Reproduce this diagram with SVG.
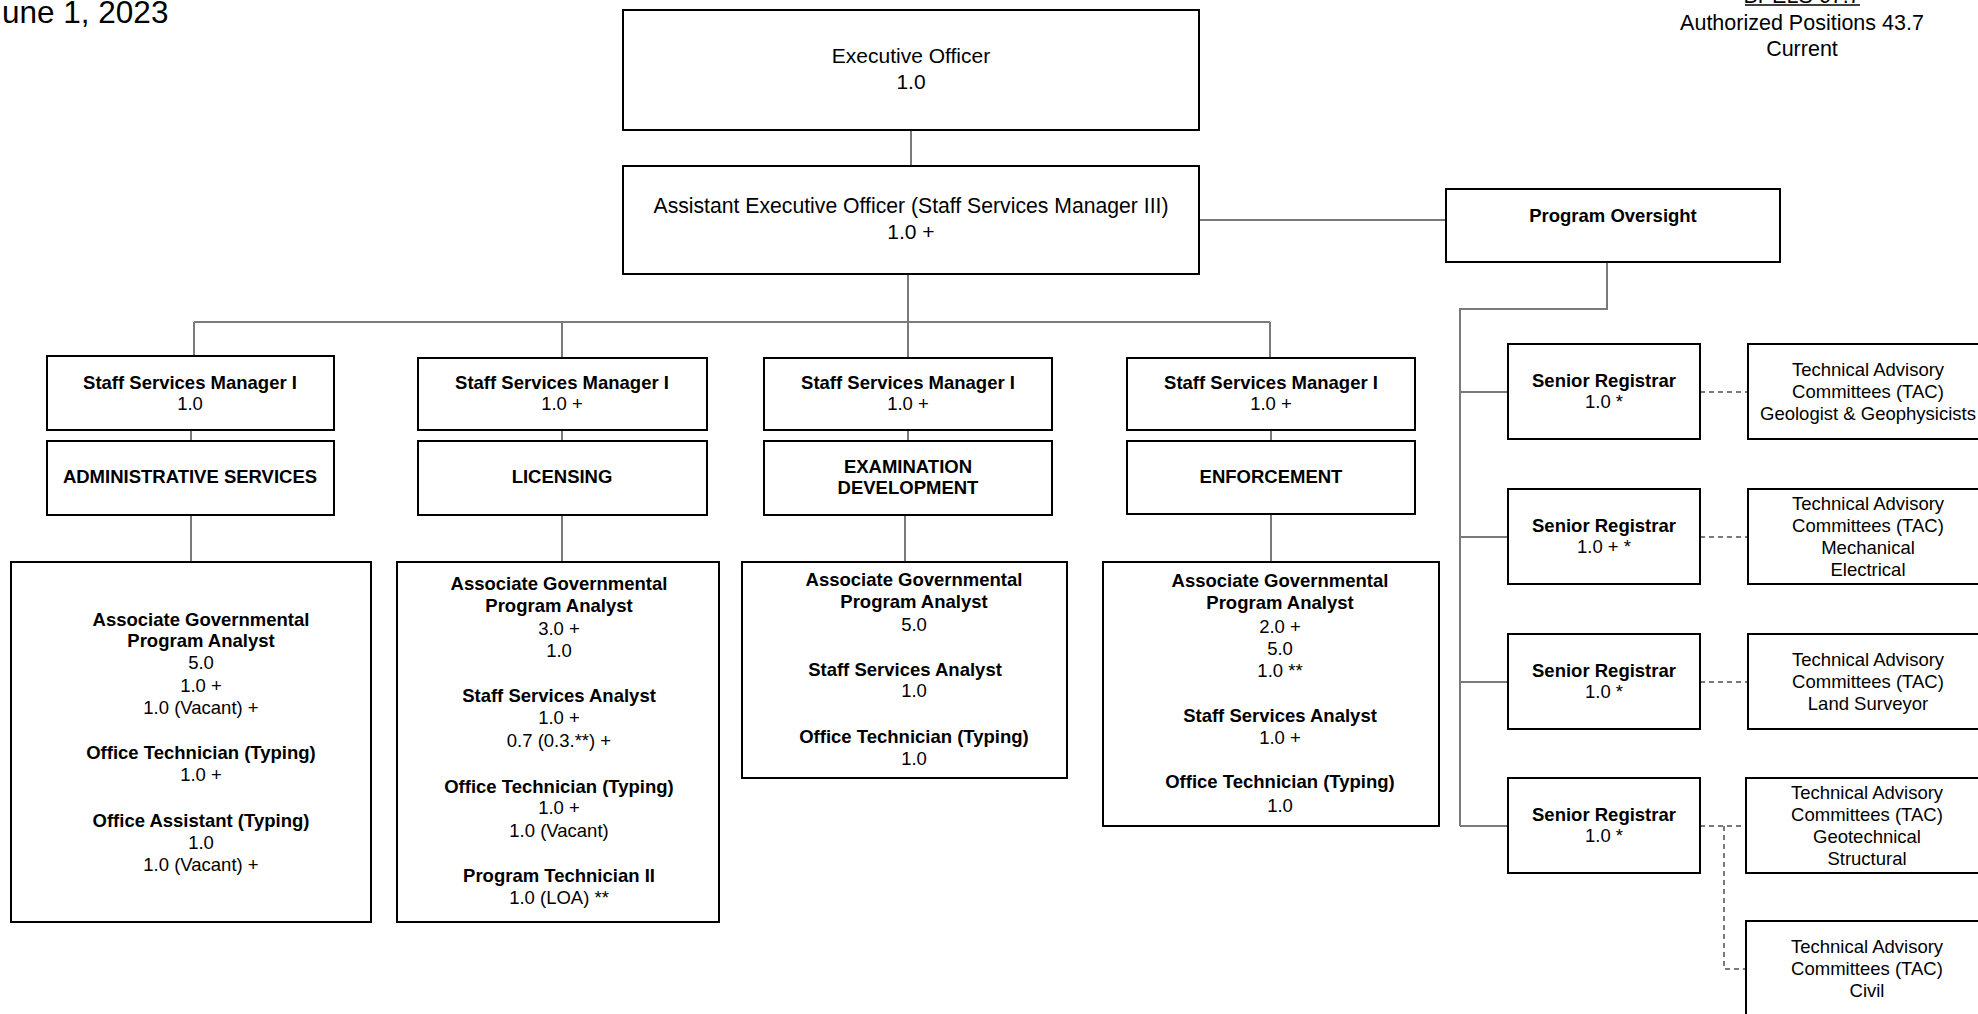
<svg xmlns="http://www.w3.org/2000/svg" width="1978" height="1014" viewBox="0 0 1978 1014">
<style>
.box{fill:#fff;stroke:#000;stroke-width:2}
.ln{stroke:#7a7a7a;stroke-width:2;fill:none}
.dash{stroke:#7a7a7a;stroke-width:2;stroke-dasharray:5 4;fill:none}
text{font-family:"Liberation Sans",Arial,sans-serif;text-anchor:middle;fill:#000}
.t21{font-size:21px}
.r{font-size:18.5px}
.b{font-size:18.5px;font-weight:bold}
.hdr{font-size:21.5px}
</style>
<rect width="1978" height="1014" fill="#fff"/>
<g id="header">
<text x="2" y="23" style="font-size:31.5px;text-anchor:start">une 1, 2023</text>
<text x="1802" y="3" class="hdr">BPELS 67.7</text>
<line x1="1745" y1="5" x2="1860" y2="5" stroke="#000" stroke-width="1.5"/>
<text x="1802" y="30" class="hdr">Authorized Positions 43.7</text>
<text x="1802" y="56" class="hdr">Current</text>
</g>
<g id="connectors">
<path class="ln" d="M911 130V166"/>
<path class="ln" d="M1199 220H1446"/>
<path class="ln" d="M908 274V322"/>
<path class="ln" d="M194 322H1270"/>
<path class="ln" d="M194 322V356M562 322V358M908 322V358M1270 322V358"/>
<path class="ln" d="M191 430V441M562 430V441M908 430V441M1271 430V441"/>
<path class="ln" d="M191 515V562M562 515V562M905 515V562M1271 515V562"/>
<path class="ln" d="M1607 262V309H1460V826"/>
<path class="ln" d="M1460 392H1508M1460 537H1508M1460 682H1508M1460 826H1508"/>
<path class="dash" d="M1700 392H1748M1700 537H1748M1700 682H1748M1700 826H1746"/>
<path class="dash" d="M1724 826V969H1746"/>
</g>
<g id="eo">
<rect class="box" x="623" y="10" width="576" height="120"/>
<text x="911" y="63" class="t21">Executive Officer</text>
<text x="911" y="89" class="t21">1.0</text>
</g>
<g id="aeo">
<rect class="box" x="623" y="166" width="576" height="108"/>
<text x="911" y="213" style="font-size:21.2px">Assistant Executive Officer (Staff Services Manager III)</text>
<text x="911" y="239" class="t21">1.0 +</text>
</g>
<g id="program-oversight">
<rect class="box" x="1446" y="189" width="334" height="73"/>
<text x="1613" y="222" class="b">Program Oversight</text>
</g>
<g id="ssm-a">
<rect class="box" x="47" y="356" width="287" height="74"/>
<text x="190" y="389" class="b">Staff Services Manager I</text>
<text x="190" y="410" class="r">1.0</text>
</g>
<g id="ssm-b">
<rect class="box" x="418" y="358" width="289" height="72"/>
<text x="562" y="389" class="b">Staff Services Manager I</text>
<text x="562" y="410" class="r">1.0 +</text>
</g>
<g id="ssm-c">
<rect class="box" x="764" y="358" width="288" height="72"/>
<text x="908" y="389" class="b">Staff Services Manager I</text>
<text x="908" y="410" class="r">1.0 +</text>
</g>
<g id="ssm-d">
<rect class="box" x="1127" y="358" width="288" height="72"/>
<text x="1271" y="389" class="b">Staff Services Manager I</text>
<text x="1271" y="410" class="r">1.0 +</text>
</g>
<g id="dept-admin">
<rect class="box" x="47" y="441" width="287" height="74"/>
<text x="190" y="483" class="b">ADMINISTRATIVE SERVICES</text>
</g>
<g id="dept-licensing">
<rect class="box" x="418" y="441" width="289" height="74"/>
<text x="562" y="483" class="b">LICENSING</text>
</g>
<g id="dept-exam">
<rect class="box" x="764" y="441" width="288" height="74"/>
<text x="908" y="473" class="b">EXAMINATION</text>
<text x="908" y="494" class="b">DEVELOPMENT</text>
</g>
<g id="dept-enforcement">
<rect class="box" x="1127" y="441" width="288" height="73"/>
<text x="1271" y="483" class="b">ENFORCEMENT</text>
</g>
<g id="staff-admin">
<rect class="box" x="11" y="562" width="360" height="360"/>
<text x="201" y="626" class="b">Associate Governmental</text>
<text x="201" y="647" class="b">Program Analyst</text>
<text x="201" y="669" class="r">5.0</text>
<text x="201" y="692" class="r">1.0 +</text>
<text x="201" y="714" class="r">1.0 (Vacant) +</text>
<text x="201" y="759" class="b">Office Technician (Typing)</text>
<text x="201" y="781" class="r">1.0 +</text>
<text x="201" y="827" class="b">Office Assistant (Typing)</text>
<text x="201" y="849" class="r">1.0</text>
<text x="201" y="871" class="r">1.0 (Vacant) +</text>
</g>
<g id="staff-licensing">
<rect class="box" x="397" y="562" width="322" height="360"/>
<text x="559" y="590" class="b">Associate Governmental</text>
<text x="559" y="612" class="b">Program Analyst</text>
<text x="559" y="635" class="r">3.0 +</text>
<text x="559" y="657" class="r">1.0</text>
<text x="559" y="702" class="b">Staff Services Analyst</text>
<text x="559" y="724" class="r">1.0 +</text>
<text x="559" y="747" class="r">0.7 (0.3.**) +</text>
<text x="559" y="793" class="b">Office Technician (Typing)</text>
<text x="559" y="814" class="r">1.0 +</text>
<text x="559" y="837" class="r">1.0 (Vacant)</text>
<text x="559" y="882" class="b">Program Technician II</text>
<text x="559" y="904" class="r">1.0 (LOA) **</text>
</g>
<g id="staff-exam">
<rect class="box" x="742" y="562" width="325" height="216"/>
<text x="914" y="586" class="b">Associate Governmental</text>
<text x="914" y="608" class="b">Program Analyst</text>
<text x="914" y="631" class="r">5.0</text>
<text x="905" y="676" class="b">Staff Services Analyst</text>
<text x="914" y="697" class="r">1.0</text>
<text x="914" y="743" class="b">Office Technician (Typing)</text>
<text x="914" y="765" class="r">1.0</text>
</g>
<g id="staff-enforcement">
<rect class="box" x="1103" y="562" width="336" height="264"/>
<text x="1280" y="587" class="b">Associate Governmental</text>
<text x="1280" y="609" class="b">Program Analyst</text>
<text x="1280" y="633" class="r">2.0 +</text>
<text x="1280" y="655" class="r">5.0</text>
<text x="1280" y="677" class="r">1.0 **</text>
<text x="1280" y="722" class="b">Staff Services Analyst</text>
<text x="1280" y="744" class="r">1.0 +</text>
<text x="1280" y="788" class="b">Office Technician (Typing)</text>
<text x="1280" y="812" class="r">1.0</text>
</g>
<g id="sr-1">
<rect class="box" x="1508" y="344" width="192" height="95"/>
<text x="1604" y="387" class="b">Senior Registrar</text>
<text x="1604" y="408" class="r">1.0 *</text>
</g>
<g id="sr-2">
<rect class="box" x="1508" y="489" width="192" height="95"/>
<text x="1604" y="532" class="b">Senior Registrar</text>
<text x="1604" y="553" class="r">1.0 + *</text>
</g>
<g id="sr-3">
<rect class="box" x="1508" y="634" width="192" height="95"/>
<text x="1604" y="677" class="b">Senior Registrar</text>
<text x="1604" y="698" class="r">1.0 *</text>
</g>
<g id="sr-4">
<rect class="box" x="1508" y="778" width="192" height="95"/>
<text x="1604" y="821" class="b">Senior Registrar</text>
<text x="1604" y="842" class="r">1.0 *</text>
</g>
<g id="tac-1">
<rect class="box" x="1748" y="344" width="250" height="95"/>
<text x="1868" y="376" class="r">Technical Advisory</text>
<text x="1868" y="398" class="r">Committees (TAC)</text>
<text x="1868" y="420" class="r">Geologist &amp; Geophysicists</text>
</g>
<g id="tac-2">
<rect class="box" x="1748" y="489" width="250" height="95"/>
<text x="1868" y="510" class="r">Technical Advisory</text>
<text x="1868" y="532" class="r">Committees (TAC)</text>
<text x="1868" y="554" class="r">Mechanical</text>
<text x="1868" y="576" class="r">Electrical</text>
</g>
<g id="tac-3">
<rect class="box" x="1748" y="634" width="250" height="95"/>
<text x="1868" y="666" class="r">Technical Advisory</text>
<text x="1868" y="688" class="r">Committees (TAC)</text>
<text x="1868" y="710" class="r">Land Surveyor</text>
</g>
<g id="tac-4">
<rect class="box" x="1746" y="778" width="252" height="95"/>
<text x="1867" y="799" class="r">Technical Advisory</text>
<text x="1867" y="821" class="r">Committees (TAC)</text>
<text x="1867" y="843" class="r">Geotechnical</text>
<text x="1867" y="865" class="r">Structural</text>
</g>
<g id="tac-5">
<rect class="box" x="1746" y="921" width="252" height="100"/>
<text x="1867" y="953" class="r">Technical Advisory</text>
<text x="1867" y="975" class="r">Committees (TAC)</text>
<text x="1867" y="997" class="r">Civil</text>
</g>
</svg>
